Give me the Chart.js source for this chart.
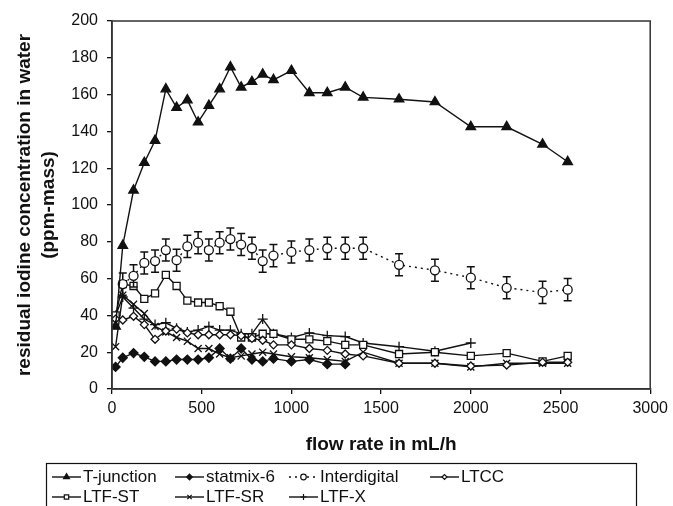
<!DOCTYPE html>
<html>
<head>
<meta charset="utf-8">
<script src="https://cdn.jsdelivr.net/npm/chart.js@4.4.1/dist/chart.umd.min.js"></script>
<style>
  body { margin: 0; background: #fff; }
  canvas { display: block; }
</style>
</head>
<body>
<canvas id="iodineChart" width="673" height="506"></canvas>
<script>
// flow rates (mL/h)
const xLong = [20, 60, 120, 180, 240, 300, 360, 420, 480, 540, 600, 660, 720, 780, 840, 900, 1000, 1100, 1200, 1300, 1400, 1600, 1800, 2000, 2200, 2400, 2540];
const xInter = [60, 120, 180, 240, 300, 360, 420, 480, 540, 600, 660, 720, 780, 840, 900, 1000, 1100, 1200, 1300, 1400, 1600, 1800, 2000, 2200, 2400, 2540];
const xStatmix = [20, 60, 120, 180, 240, 300, 360, 420, 480, 540, 600, 660, 720, 780, 840, 900, 1000, 1100, 1200, 1300];
const xLtfX = [20, 60, 120, 180, 240, 300, 360, 420, 480, 540, 600, 660, 720, 780, 840, 900, 1000, 1100, 1200, 1300, 1400, 1600, 1800, 2000];

// residual iodine (ppm-mass)
const tJunction = [34, 78, 108, 123, 135, 163, 153, 157, 145, 154, 163, 175, 164, 167, 171, 168, 173, 161, 161, 164, 158.5, 157.5, 156, 142.5, 142.5, 133, 123.5];
const statmix6 = [12, 17, 19.5, 17.5, 15, 15, 16, 16, 16, 17, 22, 16.5, 22, 16, 15, 16.5, 15, 16, 13.5, 13.5];
const interdigital = [57, 61.5, 68.5, 69.5, 75.5, 70, 77.5, 79.5, 75.5, 79.5, 81.5, 78.5, 76.5, 69.5, 72.5, 74.5, 75.5, 76.5, 76.5, 76.5, 67.5, 64.5, 60.5, 55, 52.5, 54];
const interErr = [6, 6, 6, 6, 6, 6, 6, 6, 6, 6, 6, 6, 6, 6, 6, 6, 6, 6, 6, 6, 6, 6, 6, 6, 6, 6];
const ltcc = [38, 37.5, 39.5, 35, 27, 31.5, 32.5, 30.5, 29.5, 29.5, 29.5, 29.5, 29, 27.5, 26.5, 24, 24, 22, 21, 19, 18, 14, 14, 12.5, 13, 14.5, 14.5];
const ltfST = [40, 57, 56, 49, 52, 62, 56, 48, 47, 47, 45, 42, 28, 28, 30, 30, 27, 27, 26, 24, 24, 19, 20, 18, 19.5, 15, 18];
const ltfSR = [23, 51, 46, 41, 34, 31, 28, 26, 22, 22, 19, 17, 18, 19, 20, 19, 17.5, 17, 16, 15, 20, 14, 14, 12, 14, 14, 14];
const ltfX = [40, 50, 44, 38, 35, 36, 33, 31, 32, 34, 32, 32, 30, 30, 38, 30, 28, 30.5, 29, 28.5, 25, 23, 20.5, 25];

const xTicks = [0, 500, 1000, 1500, 2000, 2500, 3000];
const yTicks = [0, 20, 40, 60, 80, 100, 120, 140, 160, 180, 200];

const INK = '#111';
const FONT = "'Liberation Sans', Arial, sans-serif";

function pts(xs, ys) {
    return xs.map((x, i) => ({ x: x, y: ys[i] }));
}

function series(label, xs, ys, style, radius, fill, dash) {
    return {
        label: label,
        data: pts(xs, ys),
        borderColor: INK,
        borderWidth: 1.4,
        borderDash: dash || [],
        pointStyle: style,
        pointRadius: radius,
        pointBackgroundColor: fill,
        pointBorderColor: INK,
        pointBorderWidth: 1.3,
        tension: 0
    };
}

const datasets = [
    series('T-junction', xLong, tJunction, 'triangle', 5.5, INK),
    series('statmix-6', xStatmix, statmix6, 'rectRot', 4.5, INK),
    series('Interdigital', xInter, interdigital, 'circle', 4.5, '#fff', [2, 4]),
    series('LTCC', xLong, ltcc, 'rectRot', 4, '#fff'),
    series('LTF-ST', xLong, ltfST, 'rect', 5, '#fff'),
    series('LTF-SR', xLong, ltfSR, 'crossRot', 5, INK),
    series('LTF-X', xLtfX, ltfX, 'cross', 5, INK)
];

// error bars on the Interdigital series
const errorBars = {
    id: 'errorBars',
    afterDatasetsDraw(chart) {
        const { ctx, scales } = chart;
        ctx.save();
        ctx.strokeStyle = INK;
        ctx.lineWidth = 1.5;
        xInter.forEach((x, i) => {
            const px = scales.x.getPixelForValue(x);
            const top = scales.y.getPixelForValue(interdigital[i] + interErr[i]);
            const bot = scales.y.getPixelForValue(interdigital[i] - interErr[i]);
            const mid = scales.y.getPixelForValue(interdigital[i]);
            ctx.beginPath();
            ctx.moveTo(px, top); ctx.lineTo(px, mid - 4.5);
            ctx.moveTo(px, mid + 4.5); ctx.lineTo(px, bot);
            ctx.moveTo(px - 4, top); ctx.lineTo(px + 4, top);
            ctx.moveTo(px - 4, bot); ctx.lineTo(px + 4, bot);
            ctx.stroke();
        });
        ctx.restore();
    }
};

// plot frame + boxed legend at the bottom
const frameAndLegend = {
    id: 'frameAndLegend',
    afterDraw(chart) {
        const { ctx, chartArea } = chart;
        ctx.save();
        ctx.strokeStyle = '#333';
        ctx.lineWidth = 1.5;
        ctx.strokeRect(chartArea.left, chartArea.top, chartArea.right - chartArea.left, chartArea.bottom - chartArea.top);

        ctx.strokeStyle = INK;
        ctx.lineWidth = 1.2;
        ctx.strokeRect(46.5, 463.5, 590, 60);

        const cols = [52, 175, 289, 430];
        const rows = [477, 497];
        ctx.font = '17px ' + FONT;
        ctx.textBaseline = 'middle';
        chart.data.datasets.forEach((ds, i) => {
            const x = cols[i % 4];
            const y = rows[Math.floor(i / 4)];
            ctx.save();
            ctx.strokeStyle = INK;
            ctx.lineWidth = 1.4;
            ctx.setLineDash(ds.borderDash);
            ctx.beginPath();
            ctx.moveTo(x, y); ctx.lineTo(x + 29, y);
            ctx.stroke();
            ctx.setLineDash([]);
            ctx.fillStyle = ds.pointBackgroundColor;
            ctx.lineWidth = 1.2;
            Chart.helpers.drawPoint(ctx, {
                pointStyle: ds.pointStyle,
                radius: ds.pointRadius * 0.62,
                rotation: 0,
                borderWidth: 1.2
            }, x + 14.5, y);
            ctx.restore();
            ctx.fillStyle = INK;
            ctx.fillText(ds.label, x + 31, y);
        });
        ctx.restore();
    }
};

new Chart(document.getElementById('iodineChart'), {
    type: 'line',
    data: { datasets: datasets },
    options: {
        responsive: false,
        animation: false,
        layout: { padding: { left: 0, right: 22, top: 21, bottom: 50 } },
        plugins: {
            legend: { display: false },
            tooltip: { enabled: false }
        },
        scales: {
            x: {
                type: 'linear',
                min: 0,
                max: 3000,
                afterBuildTicks: (scale) => { scale.ticks = xTicks.map(v => ({ value: v })); },
                afterFit: (scale) => { scale.height = 67; },
                grid: { drawOnChartArea: false, drawTicks: true, tickLength: 5, color: INK, lineWidth: 1.3 },
                border: { display: true, color: '#333', width: 1.5 },
                ticks: { color: INK, padding: 5, font: { family: FONT, size: 16 }, callback: (v) => String(v) },
                title: {
                    display: true,
                    text: 'flow rate in mL/h',
                    color: INK,
                    font: { family: FONT, size: 19, weight: 'bold' },
                    padding: { top: 0, bottom: 0 }
                }
            },
            y: {
                min: 0,
                max: 200,
                afterBuildTicks: (scale) => { scale.ticks = yTicks.map(v => ({ value: v })); },
                afterFit: (scale) => { scale.width = 112; },
                grid: { drawOnChartArea: false, drawTicks: true, tickLength: 5, color: INK, lineWidth: 1.3 },
                border: { display: true, color: '#333', width: 1.5 },
                ticks: { color: INK, padding: 9, font: { family: FONT, size: 16 }, callback: (v) => String(v) },
                title: {
                    display: true,
                    text: ['residual iodine concentration in water', '(ppm-mass)'],
                    color: INK,
                    font: { family: FONT, size: 19, weight: 'bold', lineHeight: 1.26 },
                    padding: { top: 13, bottom: 0 }
                }
            }
        }
    },
    plugins: [errorBars, frameAndLegend]
});
</script>
</body>
</html>
